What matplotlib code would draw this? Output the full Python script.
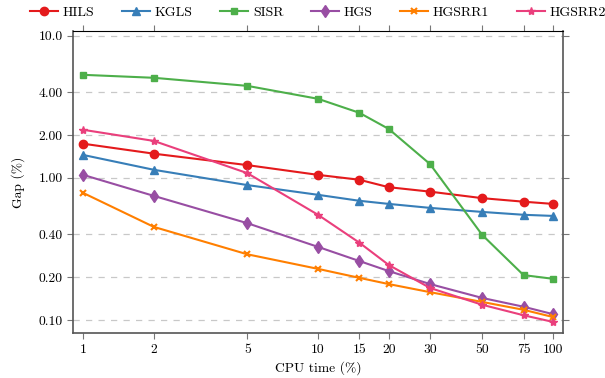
import numpy as np
import matplotlib.pyplot as plt

plt.rcParams['font.family'] = 'serif'
plt.rcParams['font.serif'] = ['cmr10', 'DejaVu Serif']
plt.rcParams['axes.formatter.use_mathtext'] = True

cpu_time = [1, 2, 5, 10, 15, 20, 30, 50, 75, 100]
x_labels = ['1', '2', '5', '10', '15', '20', '30', '50', '75', '100']
y_ticks = [0.1, 0.2, 0.4, 1.0, 2.0, 4.0, 10.0]
y_labels = ['0.10', '0.20', '0.40', '1.00', '2.00', '4.00', '10.0']

hils = [1.74, 1.48, 1.23, 1.05, 0.97, 0.86, 0.80, 0.72, 0.68, 0.656]
kgls = [1.45, 1.14, 0.89, 0.76, 0.69, 0.656, 0.615, 0.576, 0.55, 0.54]
sisr = [5.31, 5.06, 4.44, 3.60, 2.87, 2.21, 1.25, 0.397, 0.207, 0.195]
hgs = [1.05, 0.747, 0.48, 0.327, 0.26, 0.221, 0.179, 0.143, 0.124, 0.110]
hgsrr1 = [0.784, 0.452, 0.29, 0.229, 0.198, 0.179, 0.157, 0.134, 0.118, 0.105]
hgsrr2 = [2.18, 1.82, 1.08, 0.55, 0.35, 0.244, 0.168, 0.128, 0.108, 0.097]

fig = plt.figure(figsize=(6.05, 3.78), dpi=100)
ax = fig.add_axes([0.1207, 0.119, 0.81, 0.799])

ax.plot(cpu_time, hils, color='#e41a1c', marker='o', markersize=6, lw=1.5, label='HILS')
ax.plot(cpu_time, kgls, color='#377eb8', marker='^', markersize=6, lw=1.5, label='KGLS')
ax.plot(cpu_time, sisr, color='#4daf4a', marker='s', markersize=5, lw=1.5, label='SISR')
ax.plot(cpu_time, hgs, color='#984ea3', marker='d', markersize=6, lw=1.5, label='HGS')
ax.plot(cpu_time, hgsrr1, color='#ff7f00', marker='x', markersize=5, mew=1.5, lw=1.5, label='HGSRR1')
ax.plot(cpu_time, hgsrr2, color='#ea3f7c', marker='*', markersize=6, lw=1.5, label='HGSRR2')

ax.set_xscale('log')
ax.set_yscale('log')
ax.set_xlim(0.906, 110.5)
ax.set_ylim(0.081, 10.8)
ax.set_xticks(cpu_time)
ax.set_xticklabels(x_labels)
ax.set_yticks(y_ticks)
ax.set_yticklabels(y_labels)
ax.minorticks_off()

ax.grid(axis='y', linestyle=(0, (5, 5)), color='#c8c8c8', lw=0.9)
ax.tick_params(axis='both', labelsize=9.8, color='#777777', length=4)
ax.tick_params(top=True, right=True)
for s in ['left', 'bottom', 'right']:
    ax.spines[s].set_color('#555555')
    ax.spines[s].set_linewidth(1.2)
ax.spines['top'].set_color('black')

ax.set_xlabel('CPU time (%)', fontsize=9.8, labelpad=4)
ax.set_ylabel('Gap (%)', fontsize=9.8, labelpad=10)

ax.legend(loc='center', bbox_to_anchor=(0.5, 1.0 + 18 / 302), ncol=6, frameon=False,
          fontsize=10, handlelength=2.0, columnspacing=2.0, handletextpad=0.35,
          borderaxespad=0.0, borderpad=0.0)

fig.savefig('out.png', dpi=100)
